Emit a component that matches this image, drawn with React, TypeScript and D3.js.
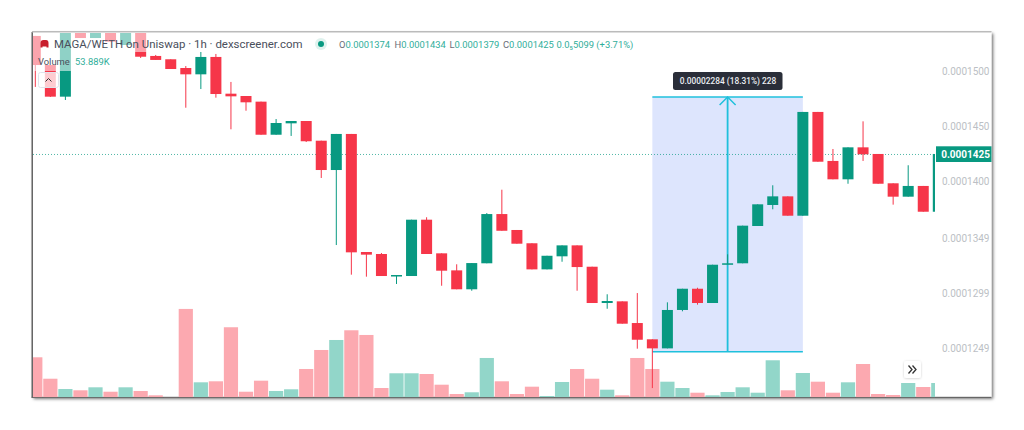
import React from "react";
import * as d3 from "d3";

// price unit: 1e-7 WETH
const opens = [1531.7,1505.4,1476.8,1537,1529.8,1537,1523.5,1537,1513.6,1510.6,1502.7,1497,1512.7,1479.5,1477.4,1472.3,1442.4,1452.7,1454.8,1437,1410.5,1443.1,1336.4,1334.6,1314.7,1314.7,1365.6,1335.2,1319.8,1302.7,1326.2,1370.7,1356.3,1344.3,1320.7,1332.5,1342.4,1323.1,1290.3,1291.8,1272.2,1257.5,1249.3,1284,1303.2,1290.3,1325.3,1326.2,1359.9,1378.9,1386.7,1369.2,1463,1418.7,1402.1,1431,1425,1398.5,1386.4,1396.1,1372.8];
const highs = [1531.7,1505.4,1537,1537,1537,1537,1537,1537,1514.5,1510.6,1504.5,1517.2,1515.4,1490.1,1477.4,1472.3,1456.6,1454.8,1454.8,1437,1443.1,1443.1,1336.4,1335.5,1315.6,1365.6,1367.8,1335.2,1325.3,1326.4,1371.6,1392.7,1356.3,1344.3,1333,1342.4,1342.4,1323.1,1298.2,1291.8,1299.3,1257.5,1290.9,1303.2,1304.1,1324.9,1334.3,1360.2,1379.5,1396.7,1386.7,1463,1463,1429.5,1431,1454.5,1425,1398.5,1414.8,1396.1,1425];
const lows = [1485.6,1476.5,1473.8,1529.8,1529.8,1526.5,1523.5,1511.8,1510,1501.8,1466.8,1483.7,1475.9,1447.3,1464.1,1442.4,1442.4,1441.3,1435.8,1403.3,1342.7,1315.9,1314.1,1314.7,1307.5,1314.7,1334.6,1305.9,1302.7,1301.4,1326.2,1355.6,1343.9,1320.7,1320.7,1327.6,1301.4,1290.3,1285.1,1271.6,1249,1213.4,1249.3,1282.8,1288.8,1290.3,1325.3,1326.2,1359.9,1375,1369.2,1369.2,1418,1402.1,1398.1,1418.7,1398.1,1379.2,1386.4,1372.8,1372.8];
const closes = [1505.4,1476.8,1537,1529.8,1537,1526.5,1537,1512.9,1510,1501.8,1497,1512.7,1479.2,1477.1,1471.7,1442.4,1453,1454.8,1436.5,1410.5,1443.1,1336.1,1334,1314.7,1315.6,1365.6,1334.6,1319.5,1302.7,1326.4,1370.7,1355.6,1343.9,1320.7,1333,1342.4,1322.8,1290.3,1292.1,1271.6,1257.1,1249.3,1284,1303.2,1290.3,1324.9,1326.2,1360.2,1379.5,1386.7,1369.2,1463,1418,1402.1,1431,1424.7,1398.1,1386.4,1396.1,1372.8,1425];
const volumes = [150.8,70,31.3,26.4,37.7,21,37.7,23.8,7.5,1,333,56.5,60.3,264,21,62.6,23.8,30.2,106.7,178.3,216,252.6,234.9,35,90.5,90.5,87.8,47.5,12.4,18.9,148.2,60.3,12.4,40,4.9,57.7,106.7,70,28.7,7.5,148.2,106.7,58.8,35,17.3,7.5,20,37.7,17.3,139.5,26.4,91.6,58.8,17.3,56.5,125.5,12.4,8.7,53.9,38.8,53.9];
const priceTicks = [1500, 1450, 1400, 1349, 1299, 1249];
const lastPrice = 1425;
const measureLow = 1246.3;
const measureHigh = 1476.5;
const measureFrom = 41;
const measureTo = 51;

const UP = "#089981";
const DOWN = "#f63649";
const UP_VOL = "#92d6c9";
const DOWN_VOL = "#fca9b0";
const LEGEND_UP = "#2fae9a";
const CYAN = "#1fc0dc";
const FONT = "Roboto, sans-serif";
const L = 33, R = 935, T = 33, B = 397.3, EDGE = 991.5;

const x = d3.scaleLinear().domain([0, 60]).range([35.3, 938.3]);
const y = d3.scaleLinear().domain([1500, 1249]).range([71, 348.7]);
const v = d3.scaleLinear().domain([0, 53.889]).range([B, B - 14.3]);
const fmt = (p: number) => (p / 1e7).toFixed(7);

const legend: [string, string][] = [["O", "0.0001374"], ["H", "0.0001434"], ["L", "0.0001379"], ["C", "0.0001425"]];
const legendX = [339, 394.5, 449.5, 503];

export default function App() {
  const bodyW = 11;
  const volW = 14.2;
  const ym = y(measureHigh), yb = y(measureLow), xa = x(measureFrom), xb = x(measureTo);
  const xc = (xa + xb) / 2;
  return (
    <svg width={1024} height={430} style={{ position: "absolute", left: 0, top: 0, display: "block", background: "#fff" }}>
      <defs>
        <clipPath id="plot"><rect x={L} y={T} width={R - L} height={B - T} /></clipPath>
        <filter id="shadow" x="-5%" y="-5%" width="110%" height="110%">
          <feDropShadow dx={1.5} dy={1.5} stdDeviation={1.5} floodColor="#000" floodOpacity={0.6} />
        </filter>
        <filter id="btn" x="-30%" y="-30%" width="160%" height="160%">
          <feDropShadow dx={0} dy={0.5} stdDeviation={1} floodColor="#000" floodOpacity={0.2} />
        </filter>
      </defs>
      <rect x={32} y={32} width={EDGE - 32} height={B - 32} fill="#fff" filter="url(#shadow)" />
      <rect x={31.5} y={32} width={1.5} height={B - 32} fill="#666" />
      <rect x={31.5} y={B - 0.5} width={EDGE - 31.5} height={1.2} fill="#666" />
      <rect x={32} y={31} width={EDGE - 32} height={1.5} fill="#bbb" />

      <g clipPath="url(#plot)">
        <g>
          {volumes.map((d, i) => (
            <rect key={i} x={x(i) - volW / 2} y={v(d)} width={volW} height={B - v(d)}
              fill={closes[i] >= opens[i] ? UP_VOL : DOWN_VOL} />
          ))}
        </g>
        <rect x={xa} y={ym} width={xb - xa} height={yb - ym} fill="#dde5fd" />
        <line x1={xa} x2={xb} y1={ym} y2={ym} stroke={CYAN} strokeWidth={1.5} />
        <line x1={xa} x2={xb} y1={yb} y2={yb} stroke={CYAN} strokeWidth={1.5} />
        <line x1={xc} x2={xc} y1={ym} y2={yb} stroke={CYAN} strokeWidth={1.8} />
        <path d={`M${xc - 8},${ym + 8}L${xc},${ym}L${xc + 8},${ym + 8}`} fill="none" stroke={CYAN} strokeWidth={1.5} />
        <line x1={L} x2={R} y1={y(lastPrice) + 0.5} y2={y(lastPrice) + 0.5} stroke={UP} strokeOpacity={0.7} strokeDasharray="1 2" />
        <g>
          {opens.map((o, i) => {
            const c = closes[i];
            const col = c >= o ? UP : DOWN;
            const top = y(Math.max(o, c));
            const bot = y(Math.min(o, c));
            return (
              <g key={i}>
                <line x1={x(i)} x2={x(i)} y1={y(highs[i])} y2={y(lows[i])} stroke={col} strokeWidth={1} />
                <rect x={x(i) - bodyW / 2} y={top} width={bodyW} height={Math.max(bot - top, 1.5)} fill={col} />
              </g>
            );
          })}
        </g>
        <rect x={L} y={T} width={277} height={19} fill="#fff" fillOpacity={0.55} />
        <rect x={L} y={T + 19} width={77} height={19} fill="#fff" fillOpacity={0.55} />
      </g>

      <path d="M40.5,47.5V43Q40.5,40 43.5,40H46Q48.5,40 48.5,43V47.5H46.5V46.5H42.5V47.5Z" fill="#c81e2d" />
      <text x={54} y={48.3} fontFamily={FONT} fontSize={11.45} fill="#4a4f5c">MAGA/WETH on Uniswap · 1h · dexscreener.com</text>
      <circle cx={321} cy={44} r={6} fill="#dff2ee" />
      <circle cx={321} cy={44} r={3} fill={UP} />
      {legend.map(([k, val], i) => (
        <text key={k} x={legendX[i]} y={47.7} fontFamily={FONT} fontSize={9.4} fill={LEGEND_UP}>
          <tspan fill="#6a6d78">{k}</tspan>{val}
        </text>
      ))}
      <text x={556.5} y={47.7} fontFamily={FONT} fontSize={9.4} fill={LEGEND_UP}>0.0₅5099 (+3.71%)</text>
      <text x={38} y={65} fontFamily={FONT} fontSize={9.4} fill="#4a4f5c">Volume</text>
      <text x={75} y={65} fontFamily={FONT} fontSize={9.4} fill={LEGEND_UP}>53.889K</text>

      <rect x={38.5} y={72.5} width={20} height={15} rx={2} fill="#fff" fillOpacity={0.75} stroke="#e0e3eb" />
      <path d="M45.5,81.5L48.5,78.5L51.5,81.5" fill="none" stroke="#333" strokeWidth={1} />

      <rect x={673} y={72} width={109.5} height={18} rx={2.5} fill="#2a2e39" />
      <text x={728} y={84.3} textAnchor="middle" fontFamily={FONT} fontSize={8.35} fontWeight={500} fill="#eceef2">0.00002284 (18.31%) 228</text>

      {priceTicks.map((t) => (
        <text key={t} x={989.5} y={y(t) + 3.5} textAnchor="end" fontFamily={FONT} fontSize={10} fill="#bcbfc5">{fmt(t)}</text>
      ))}
      <rect x={936} y={146.3} width={55.5} height={15.7} fill={UP} />
      <text x={990} y={157.7} textAnchor="end" fontFamily={FONT} fontSize={10} fontWeight={700} fill="#fff">{fmt(lastPrice)}</text>

      <rect x={904} y={361} width={17} height={17} rx={2.5} fill="#fff" filter="url(#btn)" />
      <path d="M908.5,365.5L912,369.5L908.5,373.5M912.5,365.5L916,369.5L912.5,373.5" fill="none" stroke="#333" strokeWidth={1.3} />
    </svg>
  );
}
